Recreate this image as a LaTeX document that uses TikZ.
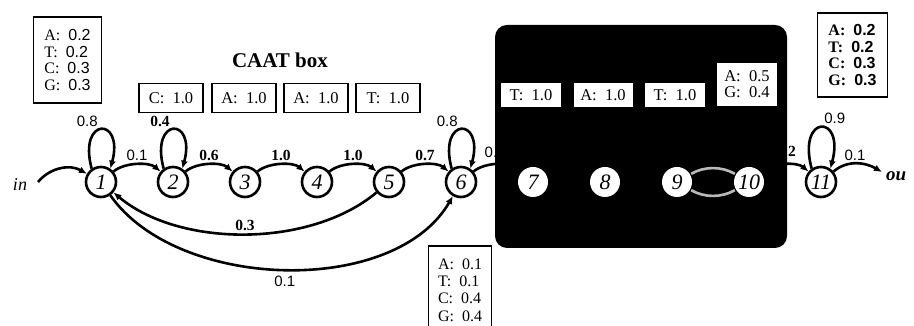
\documentclass[tikz,border=0pt]{standalone}
\usepackage{fontspec}
\setmainfont{Liberation Serif}
\setsansfont{Liberation Sans}
\usetikzlibrary{arrows.meta}
\tikzset{
  st/.style={circle,draw,line width=2.6pt,minimum size=30pt,inner sep=0pt,
    font=\fontsize{22}{22}\selectfont\itshape},
  hidst/.style={st,draw=none,fill=white},
  trans/.style={-{Latex[length=8pt,width=7pt]},line width=2.6pt},
  hidtrans/.style={trans,draw=gray!55,-},
  lab/.style={font=\fontsize{15}{15}\selectfont\sffamily,inner sep=2pt},
  boldlab/.style={font=\fontsize{15.5}{15}\selectfont\bfseries,inner sep=2pt},
  embox/.style={draw,fill=white,line width=1.8pt,align=left,inner sep=2pt,
    font=\fontsize{16.5}{16}\selectfont},
  every node/.style={font=\small}
}

\begin{document}
\begin{tikzpicture}[x=1pt,y=1pt]
\useasboundingbox (0,0) rectangle (914,326);
% shaded TATA region
\fill[black,rounded corners=12pt] (495,78) rectangle (787,301);
% states
\foreach \i in {1,...,6,11}
  \node[st] (n\i) at ({101+72*(\i-1)},144) {\i};
\foreach \i in {7,...,10}
  \node[hidst] (n\i) at ({101+72*(\i-1)},144) {\i};
\node[font=\fontsize{18}{18}\selectfont\itshape] (in) at (20,141) {in};
\node[font=\fontsize{19}{19}\selectfont\itshape\bfseries,anchor=west,inner sep=0pt] (out) at (886,150) {ou};
\coordinate (start) at (38,144);
\coordinate (stop) at (882,154);
% forward transitions
\draw[trans] (start) to[out=50,in=150] (n1);
\draw[trans] (n1) to[out=40,in=140,looseness=0.8] node[lab,above]{0.1} (n2);
\draw[trans] (n2) to[out=40,in=140,looseness=0.8] node[boldlab,above]{0.6} (n3);
\draw[trans] (n3) to[out=40,in=140,looseness=0.8] node[boldlab,above]{1.0} (n4);
\draw[trans] (n4) to[out=40,in=140,looseness=0.8] node[boldlab,above]{1.0} (n5);
\draw[trans] (n5) to[out=40,in=140,looseness=0.8] node[boldlab,above]{0.7} (n6);
\draw[trans] (n6) to[out=40,in=140,looseness=0.8] node[lab,above,xshift=-6pt,yshift=3pt]{0.} (n7);
\draw[trans] (n7) to[out=40,in=140,looseness=0.8] (n8);
\draw[trans] (n8) to[out=40,in=140,looseness=0.8] (n9);
\draw[hidtrans] (n9) to[out=30,in=150,looseness=0.9] (n10);
\draw[hidtrans] (n10) to[out=-150,in=-30,looseness=0.9] (n9);
\draw[trans] (n10) to[out=40,in=140,looseness=0.8] node[boldlab,above,xshift=7pt,yshift=5pt]{2} (n11);
\draw[trans] (n11) to[out=40,in=150] node[lab,above,xshift=-2pt]{0.1} (stop);
% self loops
\draw[trans] (n1.125) to[out=105,in=75,looseness=7.4] node[lab,anchor=south east]{0.8} (n1.55);
\draw[trans] (n2.125) to[out=105,in=75,looseness=7.4] node[boldlab,anchor=south east]{0.4} (n2.55);
\draw[trans] (n6.125) to[out=105,in=75,looseness=7.4] node[lab,anchor=south east]{0.8} (n6.55);
\draw[trans] (n11.125) to[out=105,in=75,looseness=7.8] node[lab,anchor=south west]{0.9} (n11.55);
% jumps back and forward
\draw[trans] (n5) to[out=-140,in=-40,looseness=0.84] node[boldlab,above]{0.3} (n1);
\draw[trans] (n1) to[out=-55,in=-120,looseness=0.87] node[lab,below=3pt]{0.1} (n6);
% emission boxes
\node[embox,minimum width=68pt,minimum height=86pt,font=\fontsize{16}{16.5}\selectfont] (e1) at (67.5,266) {A:\ \ \textsf{0.2}\\T:\ \ \textsf{0.2}\\C:\ \ \textsf{0.3}\\G:\ \ \textsf{0.3}};
\node[font=\fontsize{21}{21}\selectfont\bfseries] (caat) at (280,266) {CAAT box};
\node[embox,minimum width=64pt,minimum height=29pt] (e2) at (171,228) {C:\ \ 1.0};
\node[embox,minimum width=64pt,minimum height=29pt] (e3) at (244,228) {A:\ \ 1.0};
\node[embox,minimum width=64pt,minimum height=29pt] (e4) at (316,228) {A:\ \ 1.0};
\node[embox,minimum width=64pt,minimum height=29pt] (e5) at (388,228) {T:\ \ 1.0};
\node[embox,anchor=north,minimum width=63pt,minimum height=88pt,font=\fontsize{16}{17.3}\selectfont] (e6) at (460,81) {A:\ \ 0.1\\T:\ \ 0.1\\C:\ \ 0.4\\G:\ \ 0.4};
\node[embox,draw=none,minimum width=60pt,minimum height=24pt] (e7) at (531,231) {T:\ \ 1.0};
\node[embox,draw=none,minimum width=59pt,minimum height=24pt] (e8) at (603,231) {A:\ \ 1.0};
\node[embox,draw=none,minimum width=60pt,minimum height=24pt] (e9) at (675,231) {T:\ \ 1.0};
\node[embox,draw=none,minimum width=60pt,minimum height=43pt,font=\fontsize{16.5}{16}\selectfont] (e10) at (747,241.5) {A:\ \ 0.5\\G:\ \ 0.4};
\node[embox,minimum width=70pt,minimum height=84pt,font=\fontsize{16}{16.5}\selectfont\bfseries] (e11) at (852.5,271) {A:\ \ \textsf{0.2}\\T:\ \ \textsf{0.2}\\C:\ \ \textsf{0.3}\\G:\ \ \textsf{0.3}};
\end{tikzpicture}
\end{document}
